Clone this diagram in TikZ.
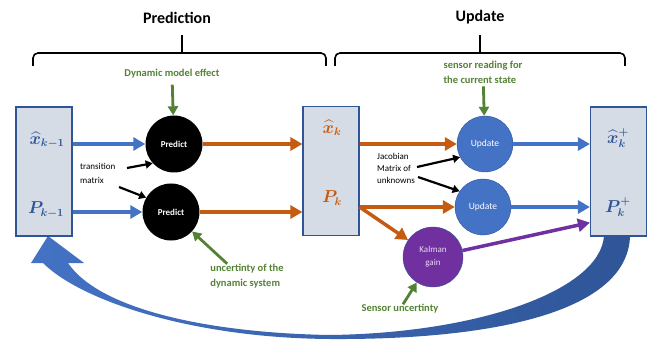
\documentclass[tikz,border=0pt]{standalone}
\usepackage{fontspec}
\setmainfont{Carlito}
\usepackage{amsmath}
\usetikzlibrary{arrows.meta}
\definecolor{accblue}{HTML}{4472C4}
\definecolor{accdark}{HTML}{2F5597}
\definecolor{accorange}{HTML}{C55A11}
\definecolor{accgreen}{HTML}{548235}
\definecolor{accpurple}{HTML}{7030A0}
\definecolor{boxfill}{HTML}{D6DCE5}
\definecolor{kaltext}{HTML}{E6DAF2}
\tikzset{
state box/.style = { rectangle, draw = accdark, fill = boxfill, line width = 1.2pt, minimum width = 56pt, minimum height = 129pt },
predict/.style = { circle, fill = black, text = white, font = \fontsize{9}{10}\selectfont\bfseries, minimum size = 57pt, inner sep = 0pt },
update/.style = { circle, draw = accdark, fill = accblue, text = white, font = \fontsize{9.5}{11}\selectfont, minimum size = 56pt, inner sep = 0pt },
gain/.style = { circle, draw = accdark, fill = accpurple, text = kaltext, font = \fontsize{9}{13}\selectfont, align = center, minimum size = 60pt, inner sep = 0pt },
label/.style = { font = \fontsize{16}{18}\selectfont\boldmath, inner sep = 0pt },
title/.style = { font = \fontsize{16}{18}\selectfont\bfseries },
note/.style = { text = accgreen, font = \fontsize{10.5}{15}\selectfont\bfseries, align = left, inner sep = 0pt },
hint/.style = { font = \fontsize{9}{12}\selectfont, align = left, inner sep = 0pt },
flow/.style = { line width = 3.5pt, -{Triangle[length = 12pt, width = 13pt]} },
cue/.style = { accgreen, line width = 2.8pt, -{Triangle[length = 9pt, width = 10pt]} },
link/.style = { black, line width = 2.2pt, -{Triangle[length = 7pt, width = 8pt]} },
bracket/.style = { line width = 1.6pt, rounded corners = 5pt },
}
\begin{document}
\begin{tikzpicture}[x = 1pt, y = -1pt]
\useasboundingbox (0, 0) rectangle (651, 342);
% headings and braces
\node[title] (tpred) at (177, 18) {Prediction};
\node[title] (tupd) at (480, 17) {Update};
\draw[bracket] (33, 66) |- (326, 53) -- (326, 66);
\draw[bracket] (182, 53) -- (182, 35);
\draw[bracket] (335, 66) |- (625, 53) -- (625, 66);
\draw[bracket] (480, 53) -- (480, 35);

% feedback arrow
\shade[left color = accblue, right color = accdark] (630, 236) .. controls (628, 310) and (500, 340) .. (330, 339) .. controls (190, 338) and (80, 300) .. (43, 263) -- (31, 263) -- (48, 236) -- (84, 263) -- (68, 263) .. controls (100, 310) and (210, 333) .. (330, 335) .. controls (480, 333) and (600, 290) .. (604, 236) -- cycle;

% state boxes
\node[state box] (boxl) at (44, 171.5) {};
\node[state box] (boxm) at (331, 171) {};
\node[state box] (boxr) at (618.5, 171.5) {};
\node[label, text = accdark] (xl) at (47, 140) {$\widehat{x}_{k-1}$};
\node[label, text = accdark] (pl) at (46, 210) {$P_{k-1}$};
\node[label, text = accorange] (xm) at (332, 128) {$\widehat{x}_{k}$};
\node[label, text = accorange] (pm) at (332, 198) {$P_{k}$};
\node[label, text = accdark] (xr) at (618, 138) {$\widehat{x}_{k}^{+}$};
\node[label, text = accdark] (pr) at (618, 207) {$P_{k}^{+}$};

% steps
\node[predict] (predx) at (174, 144) {Predict};
\node[predict] (predp) at (171, 212) {Predict};
\node[update] (updx) at (485, 144) {Update};
\node[update] (updp) at (483, 207) {Update};
\node[gain] (gain) at (433, 257) {Kalman\\gain};

\draw[flow, accblue] (boxl.east |- predx) -- (predx);
\draw[flow, accblue] (boxl.east |- predp) -- (predp);
\draw[flow, accorange] (predx) -- (boxm.west |- predx);
\draw[flow, accorange] (predp) -- (boxm.west |- predp);
\draw[flow, accorange] (boxm.east |- updx) -- (updx);
\draw[flow, accorange] (boxm.east |- updp) -- (updp);
\draw[flow, accorange] (boxm.east |- updp) -- (gain);
\draw[flow, accblue] (updx) -- (boxr.west |- updx);
\draw[flow, accblue] (updp) -- (boxr.west |- updp);
\draw[flow, accpurple] (gain) -- ([yshift = 14pt]boxr.south west);

% green notes
\node[note] (dyn) at (172, 74) {Dynamic model effect};
\node[note] (sread) at (483, 72) {sensor reading for\\the current state};
\node[note] (unc) at (247, 276) {uncertinty of the\\dynamic system};
\node[note] (sunc) at (400, 309) {Sensor uncertinty};
\draw[cue, shorten <= 6pt] (dyn) -- (predx);
\draw[cue, shorten <= 3pt] (sread) -- (updx);
\draw[cue] ([xshift = 17pt]unc.north west) -- (predp);
\draw[cue] (sunc) -- (gain);

% black hints
\node[hint, anchor = north west, font = \fontsize{9}{14}\selectfont] (trans) at (80, 163) {transition\\matrix};
\node[hint, anchor = north west] (jacob) at (377, 153) {Jacobian\\Matrix of\\unknowns};
\coordinate (tr1) at (127, 168);
\coordinate (tr2) at (119, 187);
\coordinate (jc1) at (417, 167);
\coordinate (jc2) at (418, 177);
\draw[link] (tr1) -- (predx.222);
\draw[link] (tr2) -- (predp.150);
\draw[link] (jc1) -- (updx.208);
\draw[link] (jc2) -- (updp.146);
\end{tikzpicture}
\end{document}
